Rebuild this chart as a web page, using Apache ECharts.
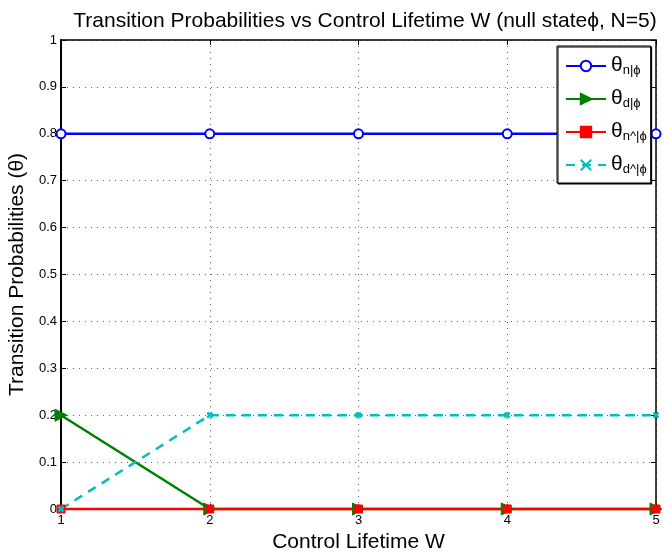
<!DOCTYPE html>
<html>
<head>
<meta charset="utf-8">
<script src="https://cdn.jsdelivr.net/npm/echarts@6/dist/echarts.min.js"></script>
<style>
  html, body { margin: 0; padding: 0; background: #fff; }
  #chart { width: 664px; height: 553px; }
</style>
</head>
<body>
<div id="chart"></div>
<script>
// Control lifetime values on the x axis
const lifetimes = [1, 2, 3, 4, 5];
// Transition probabilities out of the null state
const thetaN = [0.8, 0.8, 0.8, 0.8, 0.8];
const thetaD = [0.2, 0, 0, 0, 0];
const thetaNHat = [0, 0, 0, 0, 0];
const thetaDHat = [0, 0.2, 0.2, 0.2, 0.2];
// Series names: θ followed by its subscript
const seriesNames = ['θn|ϕ', 'θd|ϕ', 'θn^|ϕ', 'θd^|ϕ'];
const yTicks = [0, 0.1, 0.2, 0.3, 0.4, 0.5, 0.6, 0.7, 0.8, 0.9, 1];

const FONT = '"Liberation Sans", Arial, Helvetica, sans-serif';
const pairs = ys => lifetimes.map((x, i) => [x, ys[i]]);

const chart = echarts.init(document.getElementById('chart'), null, { renderer: 'canvas' });

const gridLine = { show: true, lineStyle: { color: '#666', width: 1, type: [1, 5] } };
const LW = 2.5;

const option = {
  backgroundColor: '#fff',
  animation: false,
  title: {
    text: 'Transition Probabilities vs Control Lifetime W (null state\u03d5, N=5)',
    left: 360, top: 6, textAlign: 'center',
    textStyle: { fontFamily: FONT, fontSize: 21, fontWeight: 'normal', color: '#000' }
  },
  grid: { left: 61, right: 8, top: 40, bottom: 44, containLabel: false, outerBoundsMode: 'none' },
  legend: {
    orient: 'vertical',
    left: 557, top: 46,
    padding: [5, 4, 7, 8],
    itemWidth: 40, itemHeight: 13, itemGap: 7,
    backgroundColor: '#fff',
    borderColor: '#000', borderWidth: 1,
    shadowColor: '#000', shadowBlur: 0, shadowOffsetX: 1, shadowOffsetY: 1,
    data: seriesNames,
    formatter: name => '{t|θ}{s|' + name.slice(1) + '}',
    textStyle: {
      fontFamily: FONT, color: '#000',
      rich: {
        t: { fontSize: 21, lineHeight: 22, verticalAlign: 'top', fontFamily: FONT },
        s: { fontSize: 13, lineHeight: 13, padding: [13, 0, 0, 0], verticalAlign: 'bottom', fontFamily: FONT }
      }
    }
  },
  xAxis: [{
    type: 'value', min: 1, max: 5, interval: 1,
    name: 'Control Lifetime W', nameLocation: 'middle', nameGap: 19,
    nameTextStyle: { fontFamily: FONT, fontSize: 21, color: '#000' },
    axisLine: { show: true, onZero: false, lineStyle: { color: '#000', width: 2 } },
    axisTick: { show: true, inside: true, length: 5, lineStyle: { color: '#000' } },
    axisLabel: { fontFamily: FONT, fontSize: 13, color: '#000', margin: 5 },
    splitLine: gridLine
  }, {
    type: 'value', min: 1, max: 5, interval: 1, position: 'top',
    axisLine: { show: true, onZero: false, lineStyle: { color: '#000', width: 1.5 } },
    axisTick: { show: true, inside: true, length: 5, lineStyle: { color: '#000' } },
    axisLabel: { show: false }, splitLine: { show: false }
  }],
  yAxis: [{
    type: 'value', min: 0, max: 1, interval: 0.1,
    name: 'Transition Probabilities (θ)', nameLocation: 'middle', nameGap: 25,
    nameTextStyle: { fontFamily: FONT, fontSize: 21, color: '#000' },
    axisLine: { show: true, onZero: false, lineStyle: { color: '#000', width: 2 } },
    axisTick: { show: true, inside: true, length: 5, lineStyle: { color: '#000' } },
    axisLabel: {
      fontFamily: FONT, fontSize: 13, color: '#000', margin: 4,
      formatter: v => String(yTicks.find(t => Math.abs(t - v) < 1e-9) ?? v)
    },
    splitLine: gridLine
  }, {
    type: 'value', min: 0, max: 1, interval: 0.1, position: 'right',
    axisLine: { show: true, onZero: false, lineStyle: { color: '#000', width: 1.5 } },
    axisTick: { show: true, inside: true, length: 5, lineStyle: { color: '#000' } },
    axisLabel: { show: false }, splitLine: { show: false }
  }],
  series: [
    {
      name: seriesNames[0], type: 'line', data: pairs(thetaN), clip: false,
      symbol: 'circle', symbolSize: 9, showAllSymbol: true,
      lineStyle: { color: '#0000ff', width: LW },
      itemStyle: { color: '#fff', borderColor: '#0000ff', borderWidth: 2 }
    },
    {
      name: seriesNames[1], type: 'line', data: pairs(thetaD), clip: false,
      symbol: 'triangle', symbolRotate: -90, symbolSize: 12,
      lineStyle: { color: '#008000', width: LW },
      itemStyle: { color: '#008000', borderColor: '#008000', borderWidth: 1 }
    },
    {
      name: seriesNames[2], type: 'line', data: pairs(thetaNHat), clip: false,
      symbol: 'rect', symbolSize: 8,
      lineStyle: { color: '#ff0000', width: LW },
      itemStyle: { color: '#ff0000', borderColor: '#ff0000', borderWidth: 1 }
    },
    {
      name: seriesNames[3], type: 'line', data: pairs(thetaDHat), clip: false,
      symbol: 'path://M0,0L10,10M10,0L0,10', symbolSize: 5,
      lineStyle: { color: '#00bfbf', width: LW, type: [9, 7] },
      itemStyle: { color: '#00bfbf', borderColor: '#00bfbf', borderWidth: 2.5 }
    }
  ]
};

chart.setOption(option);
</script>
</body>
</html>
